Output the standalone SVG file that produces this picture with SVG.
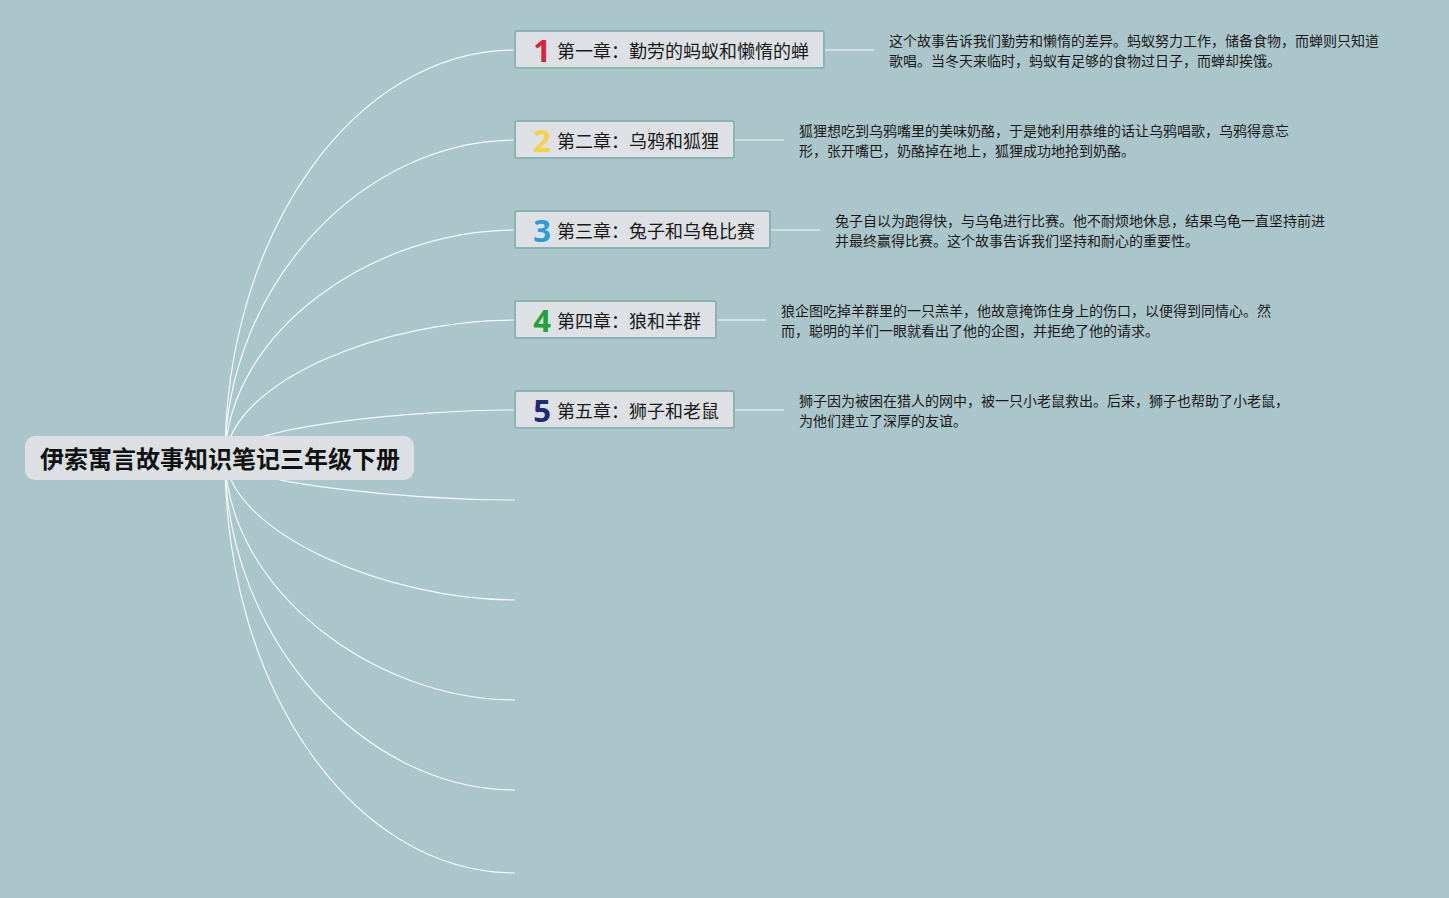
<svg xmlns="http://www.w3.org/2000/svg" width="1449" height="898" viewBox="0 0 1449 898">
<style>
.bg{fill:#abc6ca}
.link{fill:none;stroke:#f4f8f8;stroke-width:1.2}
.box{fill:#dde0e4;stroke:#8db3b1;stroke-width:2}
.root{fill:#dcdfe3}
.rt{font-family:"Noto Sans CJK SC","Noto Sans",sans-serif;font-weight:bold;font-size:24px;fill:#111}
.lbl{font-family:"Noto Sans CJK SC","Noto Sans",sans-serif;font-size:18px;fill:#1a1a1a}
.num{font-family:"Noto Sans","Noto Sans CJK SC",sans-serif;font-weight:bold;font-size:31px;text-anchor:middle}
.desc{font-family:"Noto Sans CJK SC","Noto Sans",sans-serif;font-size:14px;fill:#1a1a1a}
</style>
<rect class="bg" x="0" y="0" width="1449" height="898"/>
<g id="connectors">
<path class="link" d="M225,458 C225,233 355,50 515,50"/>
<path class="link" d="M225,458 C226,283 365,140 515,140"/>
<path class="link" d="M225,458 C228,330 375,230 515,230"/>
<path class="link" d="M225,458 C232,380 385,320 515,320"/>
<path class="link" d="M225,458 C240,425 420,410 515,410"/>
<path class="link" d="M225,458 C240,485 420,500 515,500"/>
<path class="link" d="M225,458 C232,535 390,600 515,600"/>
<path class="link" d="M225,458 C228,590 375,700 515,700"/>
<path class="link" d="M225,458 C226,640 365,790 515,790"/>
<path class="link" d="M225,458 C225,690 355,873 515,873"/>
<line class="link" x1="824" y1="50" x2="874" y2="50"/>
<line class="link" x1="734" y1="140" x2="784" y2="140"/>
<line class="link" x1="770" y1="230" x2="820" y2="230"/>
<line class="link" x1="716" y1="320" x2="766" y2="320"/>
<line class="link" x1="734" y1="410" x2="784" y2="410"/>
</g>
<g id="root">
<rect class="root" x="25" y="436" width="389" height="44" rx="10"/>
<text class="rt" x="40" y="468">伊索寓言故事知识笔记三年级下册</text>
</g>
<g id="node1">
<rect class="box" x="515" y="31" width="309" height="37" rx="2"/>
<text class="num" x="542" y="62" fill="#e0203a">1</text>
<text class="lbl" x="557" y="58">第一章：勤劳的蚂蚁和懒惰的蝉</text>
</g>
<g id="node2">
<rect class="box" x="515" y="121" width="219" height="37" rx="2"/>
<text class="num" x="542" y="152" fill="#f3d440">2</text>
<text class="lbl" x="557" y="148">第二章：乌鸦和狐狸</text>
</g>
<g id="node3">
<rect class="box" x="515" y="211" width="255" height="37" rx="2"/>
<text class="num" x="542" y="242" fill="#2a9be0">3</text>
<text class="lbl" x="557" y="238">第三章：兔子和乌龟比赛</text>
</g>
<g id="node4">
<rect class="box" x="515" y="301" width="201" height="37" rx="2"/>
<text class="num" x="542" y="332" fill="#22a33a">4</text>
<text class="lbl" x="557" y="328">第四章：狼和羊群</text>
</g>
<g id="node5">
<rect class="box" x="515" y="391" width="219" height="37" rx="2"/>
<text class="num" x="542" y="422" fill="#1c2a78">5</text>
<text class="lbl" x="557" y="418">第五章：狮子和老鼠</text>
</g>
<g id="desc1">
<text class="desc" x="889" y="46">这个故事告诉我们勤劳和懒惰的差异。蚂蚁努力工作，储备食物，而蝉则只知道</text>
<text class="desc" x="889" y="66">歌唱。当冬天来临时，蚂蚁有足够的食物过日子，而蝉却挨饿。</text>
</g>
<g id="desc2">
<text class="desc" x="799" y="136">狐狸想吃到乌鸦嘴里的美味奶酪，于是她利用恭维的话让乌鸦唱歌，乌鸦得意忘</text>
<text class="desc" x="799" y="156">形，张开嘴巴，奶酪掉在地上，狐狸成功地抢到奶酪。</text>
</g>
<g id="desc3">
<text class="desc" x="835" y="226">兔子自以为跑得快，与乌龟进行比赛。他不耐烦地休息，结果乌龟一直坚持前进</text>
<text class="desc" x="835" y="246">并最终赢得比赛。这个故事告诉我们坚持和耐心的重要性。</text>
</g>
<g id="desc4">
<text class="desc" x="781" y="316">狼企图吃掉羊群里的一只羔羊，他故意掩饰住身上的伤口，以便得到同情心。然</text>
<text class="desc" x="781" y="336">而，聪明的羊们一眼就看出了他的企图，并拒绝了他的请求。</text>
</g>
<g id="desc5">
<text class="desc" x="799" y="406">狮子因为被困在猎人的网中，被一只小老鼠救出。后来，狮子也帮助了小老鼠，</text>
<text class="desc" x="799" y="426">为他们建立了深厚的友谊。</text>
</g>
</svg>
